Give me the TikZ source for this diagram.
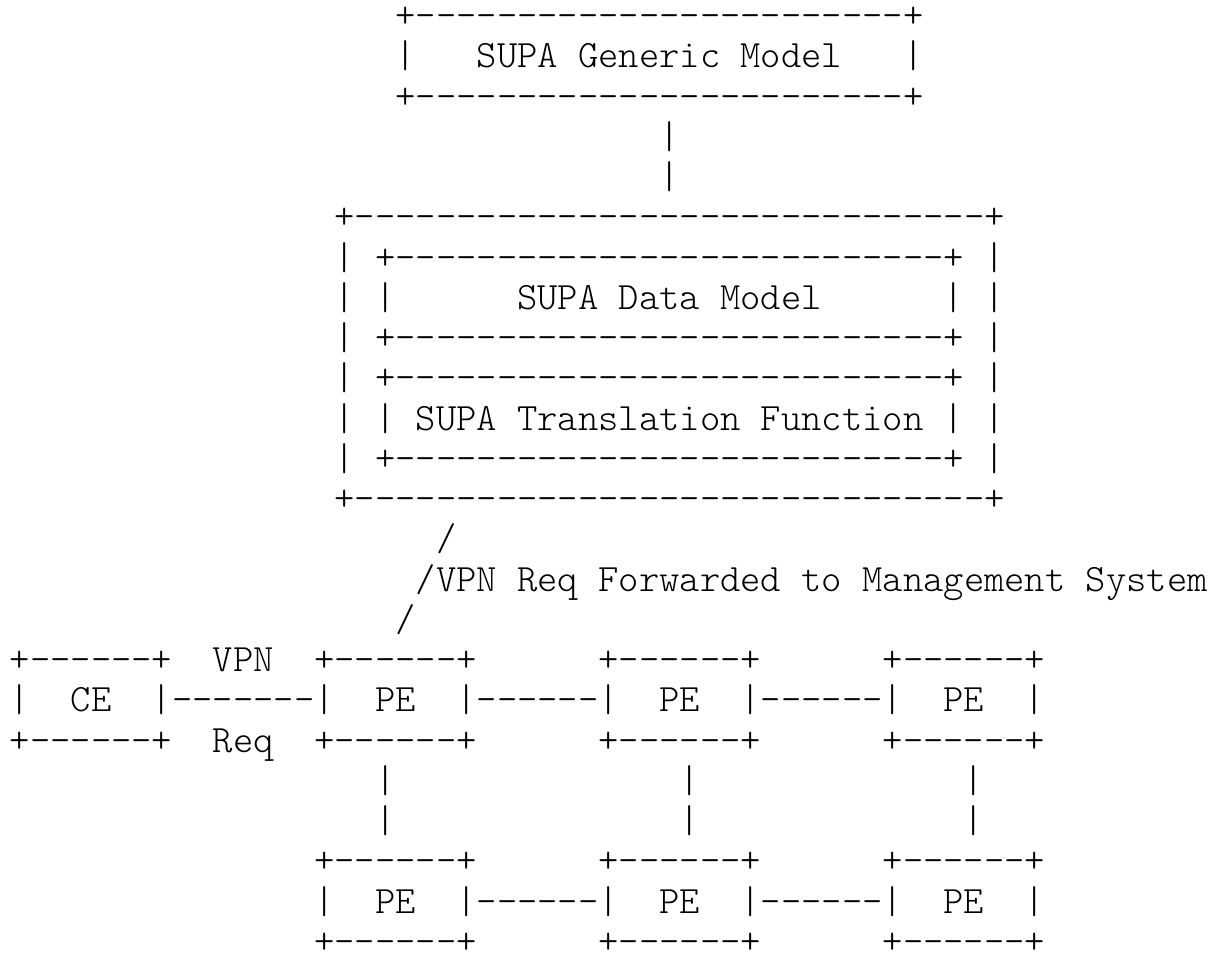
\documentclass[tikz,border=0pt]{standalone}
\usepackage{fontspec}
\newfontfamily\mono{lmmonolt10-regular.otf}[Ligatures=TeXOff]
\def\six{------}
\def\bx{+\six+}
\tikzset{asc/.style={anchor=base west, inner sep=0pt, outer sep=0pt, text=black,
  font=\mono\fontsize{38.67}{46}\selectfont}}
\newcommand\asc[4]{\node[asc] (#1) at ({9.85+20.3*#2},{27.5+40.26*#3}) {#4};}
\begin{document}
\begin{tikzpicture}[x=1pt,y=-1pt]
\useasboundingbox (0,0) rectangle (1212,955);
% SUPA Generic Model
\asc{g0}{19}{0}{+\six\six\six\six+}
\asc{g1a}{19}{1}{|}
\asc{g1b}{23}{1}{SUPA Generic Model}
\asc{g1c}{44}{1}{|}
\asc{g2}{19}{2}{+\six\six\six\six+}
\asc{v3}{32}{3}{|}
\asc{v4}{32}{4}{|}
% outer box
\asc{o5}{16}{5}{+\six\six\six\six\six-+}
\foreach \r in {6,8,9,11}{
  \asc{ol\r}{16}{\r}{|}
  \asc{in\r}{18}{\r}{+\six\six\six\six---+}
  \asc{or\r}{48}{\r}{|}
}
\asc{ol7}{16}{7}{|}
\asc{il7}{18}{7}{|}
\asc{dm}{25}{7}{SUPA Data Model}
\asc{ir7}{46}{7}{|}
\asc{or7}{48}{7}{|}
\asc{ol10}{16}{10}{|}
\asc{il10}{18}{10}{|}
\asc{tf}{20}{10}{SUPA Translation Function}
\asc{ir10}{46}{10}{|}
\asc{or10}{48}{10}{|}
\asc{o12}{16}{12}{+\six\six\six\six\six-+}
% slashes
\asc{s13}{21}{13}{/}
\asc{s14}{20}{14}{/VPN Req Forwarded to Management System}
\asc{s15}{19}{15}{/}
% CE / PE row
\asc{ce16}{0}{16}{\bx}
\asc{vpn}{10}{16}{VPN}
\asc{pa16}{15}{16}{\bx}
\asc{pb16}{29}{16}{\bx}
\asc{pc16}{43}{16}{\bx}
\asc{ce17a}{0}{17}{|}
\asc{ce}{3}{17}{CE}
\asc{l17a}{7}{17}{|-------|}
\asc{pa}{18}{17}{PE}
\asc{l17b}{22}{17}{|\six|}
\asc{pb}{32}{17}{PE}
\asc{l17c}{36}{17}{|\six|}
\asc{pc}{46}{17}{PE}
\asc{e17}{50}{17}{|}
\asc{ce18}{0}{18}{\bx}
\asc{req}{10}{18}{Req}
\asc{pa18}{15}{18}{\bx}
\asc{pb18}{29}{18}{\bx}
\asc{pc18}{43}{18}{\bx}
% verticals
\foreach \r in {19,20}{
  \asc{va\r}{18}{\r}{|}
  \asc{vb\r}{33}{\r}{|}
  \asc{vc\r}{47}{\r}{|}
}
% bottom PE row
\asc{pd21}{15}{21}{\bx}
\asc{pe21}{29}{21}{\bx}
\asc{pf21}{43}{21}{\bx}
\asc{b22a}{15}{22}{|}
\asc{pd}{18}{22}{PE}
\asc{b22b}{22}{22}{|\six|}
\asc{pe}{32}{22}{PE}
\asc{b22c}{36}{22}{|\six|}
\asc{pf}{46}{22}{PE}
\asc{b22d}{50}{22}{|}
\asc{pd23}{15}{23}{\bx}
\asc{pe23}{29}{23}{\bx}
\asc{pf23}{43}{23}{\bx}
\end{tikzpicture}
\end{document}
